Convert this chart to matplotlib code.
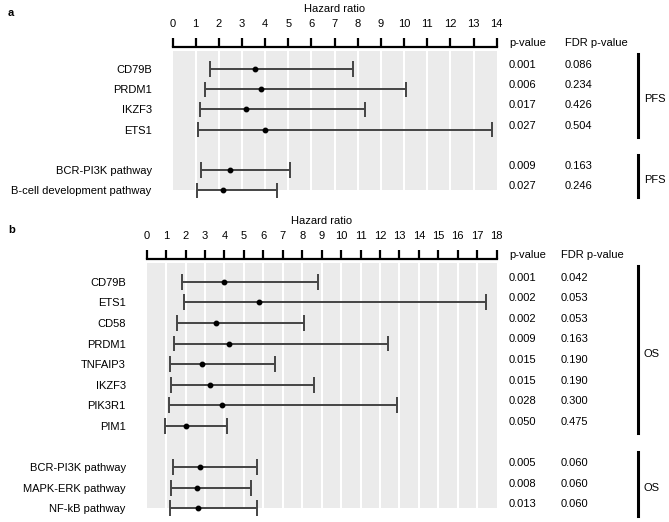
import matplotlib
matplotlib.use("Agg")
import matplotlib.pyplot as plt
from matplotlib.transforms import blended_transform_factory
from matplotlib.patches import Rectangle
from matplotlib.lines import Line2D

plt.rcParams['font.family'] = ['Liberation Sans', 'DejaVu Sans']

# panel a - PFS
a_labels = ['CD79B', 'PRDM1', 'IKZF3', 'ETS1', 'BCR-PI3K pathway', 'B-cell development pathway']
a_rows = [0, 1, 2, 3, 5, 6]
a_hr = [3.55, 3.81, 3.16, 3.98, 2.47, 2.19]
a_lo = [1.61, 1.42, 1.18, 1.12, 1.22, 1.07]
a_hi = [7.79, 10.08, 8.33, 13.8, 5.08, 4.50]
a_p = ['0.001', '0.006', '0.017', '0.027', '0.009', '0.027']
a_fdr = ['0.086', '0.234', '0.426', '0.504', '0.163', '0.246']
a_groups = [('PFS', 0, 3), ('PFS', 5, 6)]

# panel b - OS
b_labels = ['CD79B', 'ETS1', 'CD58', 'PRDM1', 'TNFAIP3', 'IKZF3', 'PIK3R1', 'PIM1',
            'BCR-PI3K pathway', 'MAPK-ERK pathway', 'NF-kB pathway']
b_rows = [0, 1, 2, 3, 4, 5, 6, 7, 9, 10, 11]
b_hr = [3.99, 5.78, 3.56, 4.22, 2.83, 3.27, 3.86, 2.02, 2.76, 2.59, 2.64]
b_lo = [1.80, 1.90, 1.56, 1.40, 1.21, 1.23, 1.15, 0.96, 1.35, 1.25, 1.20]
b_hi = [8.80, 17.44, 8.08, 12.41, 6.60, 8.62, 12.89, 4.13, 5.67, 5.35, 5.67]
b_p = ['0.001', '0.002', '0.002', '0.009', '0.015', '0.015', '0.028', '0.050',
       '0.005', '0.008', '0.013']
b_fdr = ['0.042', '0.053', '0.053', '0.163', '0.190', '0.190', '0.300', '0.475',
         '0.060', '0.060', '0.060']
b_groups = [('OS', 0, 7), ('OS', 9, 11)]

W, H = 669, 522
fig = plt.figure(figsize=(W / 100, H / 100), dpi=100)


def panel(left, right, top, bottom, row0, step, xmax, labels, rows, hr, lo, hi,
          pv, fdr, groups, fdr_x):
    ax = fig.add_axes([left / W, 1 - bottom / H, (right - left) / W, (bottom - top) / H])
    ax.set_xlim(0, xmax)
    ax.set_ylim((bottom - row0) / step, (top - row0) / step)
    ax.set_facecolor('none')
    for s in ['left', 'right', 'bottom']:
        ax.spines[s].set_visible(False)
    ax.spines['top'].set_linewidth(1.6)
    ax.xaxis.tick_top()
    ax.set_xticks(range(0, xmax + 1))
    ax.tick_params(axis='x', direction='out', length=6.5, width=1.6, pad=6.5, labelsize=8)
    ax.xaxis.set_label_position('top')
    ax.set_xlabel('Hazard ratio', fontsize=8, labelpad=5)
    ax.set_yticks(rows)
    ax.set_yticklabels(labels, fontsize=8)
    ax.tick_params(axis='y', length=0, pad=15)

    last = max(rows)
    ax.add_patch(Rectangle((0, -0.9), xmax, last + 0.9, facecolor='#ebebeb',
                           edgecolor='none', zorder=0))
    ax.vlines(range(1, xmax), -0.9, last, color='white', lw=1.5, zorder=1)

    ax.hlines(rows, lo, hi, color='#444444', lw=1.4, zorder=2)
    ax.vlines(lo, [r - 0.38 for r in rows], [r + 0.38 for r in rows], color='#444444', lw=1.4, zorder=2)
    ax.vlines(hi, [r - 0.38 for r in rows], [r + 0.38 for r in rows], color='#444444', lw=1.4, zorder=2)
    ax.plot(hr, rows, 'o', color='black', ms=3.2, zorder=3)

    tr = blended_transform_factory(fig.transFigure, ax.transData)
    hy = (top - 4 - row0) / step
    ax.text(509 / W, hy, 'p-value', transform=tr, fontsize=8, va='center', ha='left')
    ax.text(fdr_x / W, hy, 'FDR p-value', transform=tr, fontsize=8, va='center', ha='left')
    for r, p, f in zip(rows, pv, fdr):
        ax.text(509 / W, r - 0.2, p, transform=tr, fontsize=8, va='center', ha='left')
        ax.text(fdr_x / W, r - 0.2, f, transform=tr, fontsize=8, va='center', ha='left')
    for name, g0, g1 in groups:
        ax.add_line(Line2D([638 / W, 638 / W], [g0 - 0.75, g1 + 0.35], transform=tr,
                           color='black', lw=2.2, clip_on=False))
        ax.text(644 / W, (g0 + g1) / 2, name, transform=tr, fontsize=8,
                va='center', ha='left')
    return ax


panel(172.5, 496.7, 47, 200, 69, 20.2, 14, a_labels, a_rows, a_hr, a_lo, a_hi,
      a_p, a_fdr, a_groups, 565)
panel(146.7, 496.7, 259, 518, 281.7, 20.6, 18, b_labels, b_rows, b_hr, b_lo, b_hi,
      b_p, b_fdr, b_groups, 561)

fig.text(8 / W, 1 - 13 / H, 'a', fontsize=8, fontweight='bold', va='center')
fig.text(8 / W, 1 - 230 / H, 'b', fontsize=8, fontweight='bold', va='center')

fig.savefig('out.png', dpi=100)
